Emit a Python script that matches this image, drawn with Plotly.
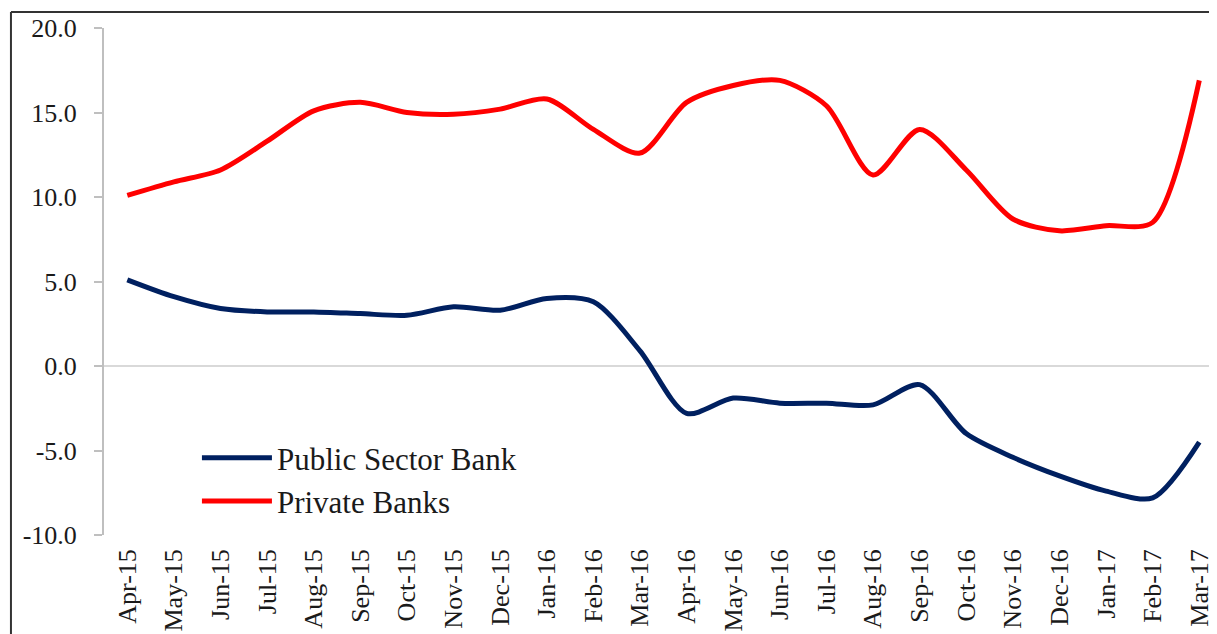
import plotly.graph_objects as go

months = ["Apr-15", "May-15", "Jun-15", "Jul-15", "Aug-15", "Sep-15", "Oct-15", "Nov-15",
          "Dec-15", "Jan-16", "Feb-16", "Mar-16", "Apr-16", "May-16", "Jun-16", "Jul-16",
          "Aug-16", "Sep-16", "Oct-16", "Nov-16", "Dec-16", "Jan-17", "Feb-17", "Mar-17"]

public_sector = [5.1, 4.1, 3.4, 3.2, 3.2, 3.1, 3.0, 3.5, 3.3, 4.0, 3.8, 0.9,
                 -2.8, -1.9, -2.2, -2.2, -2.3, -1.1, -4.0, -5.4, -6.5, -7.4, -7.8, -4.5]

private_banks = [10.1, 10.9, 11.6, 13.3, 15.1, 15.6, 15.0, 14.9, 15.2, 15.8, 14.0, 12.6,
                 15.6, 16.6, 16.9, 15.4, 11.3, 14.0, 11.6, 8.7, 8.0, 8.3, 8.5, 16.9]

series_names = ["Public Sector Bank", "Private Banks"]
y_ticks = [-10, -5, 0, 5, 10, 15, 20]
y_ticktext = ["-10.0", "-5.0", "0.0", "5.0", "10.0", "15.0", "20.0"]

FONT = "Liberation Serif"

fig = go.Figure()
fig.add_trace(go.Scatter(x=list(range(len(months))), y=public_sector, name=series_names[0],
                         mode="lines", line=dict(color="#002060", width=5, shape="spline", smoothing=0.8)))
fig.add_trace(go.Scatter(x=list(range(len(months))), y=private_banks, name=series_names[1],
                         mode="lines", line=dict(color="#FF0000", width=5, shape="spline", smoothing=0.8)))

# page body has an 8px margin, so the figure is sized and offset to compensate
fig.update_layout(
    width=1209, height=626,
    margin=dict(l=96, r=0, t=20, b=99, autoexpand=False),
    paper_bgcolor="white", plot_bgcolor="white",
    font=dict(family=FONT, size=26, color="#1a1a1a"),
    showlegend=True,
    legend=dict(x=0.0835, y=0.205, xanchor="left", yanchor="top",
                font=dict(family=FONT, size=31, color="#1a1a1a"),
                bgcolor="rgba(0,0,0,0)", itemwidth=70, tracegroupgap=0),
    xaxis=dict(
        tickmode="array", tickvals=list(range(len(months))), ticktext=months,
        tickangle=-90, range=[-0.5, 23.38], showgrid=False, zeroline=False,
        showline=False, ticks="", tickfont=dict(size=26), automargin=False,
        ticklabelstandoff=8,
    ),
    yaxis=dict(
        range=[-10, 20], tickmode="array", tickvals=y_ticks, ticktext=y_ticktext,
        showgrid=False, zeroline=True, zerolinecolor="#d9d9d9", zerolinewidth=2,
        showline=True, linecolor="#bfbfbf", linewidth=2,
        ticks="outside", ticklen=8, tickcolor="#bfbfbf", tickwidth=2,
        ticklabelstandoff=12, tickfont=dict(size=26), automargin=False,
    ),
    shapes=[
        dict(type="line", xref="paper", yref="paper", x0=-0.0836, x1=-0.0836, y0=-0.3, y1=1.0316,
             line=dict(color="#333333", width=2)),
        dict(type="line", xref="paper", yref="paper", x0=-0.0836, x1=1.05, y0=1.0316, y1=1.0316,
             line=dict(color="#333333", width=2)),
    ],
)

fig.write_html("out.html")
